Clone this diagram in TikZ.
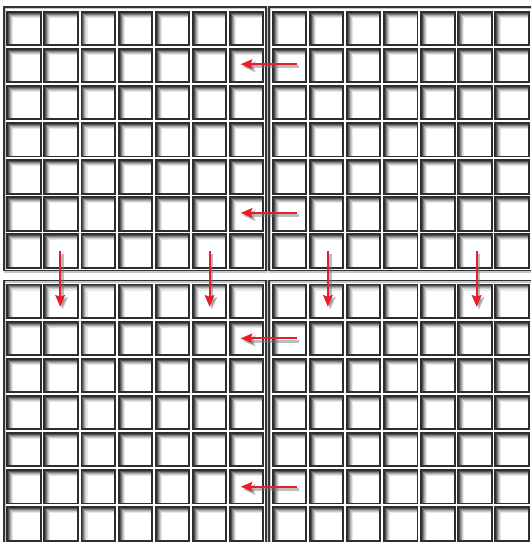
\documentclass[tikz,border=0pt]{standalone}
\usepackage{xcolor}
\usepackage{tikz}
\usetikzlibrary{arrows.meta, positioning}

\definecolor{arrowred}{RGB}{232,30,42}

\begin{document}
\begin{tikzpicture}[
  x=0.03cm, y=-0.03cm,
  frame/.style={draw=black!80, line width=1.4pt},
  frameshade/.style={draw=black!22, line width=1.8pt},
  cell/.style={draw=black!82, line width=1.6pt, fill=white, minimum size=1.005cm,
               inner sep=0pt, outer sep=0pt,
               path picture={
                 \foreach \d/\g in {0.045cm/68, 0.075cm/50, 0.105cm/34, 0.135cm/20, 0.165cm/9}{
                   \draw[black!\g, line width=0.032cm]
                     ([xshift=\d]path picture bounding box.south west)
                     |- ([yshift=-\d]path picture bounding box.north east);
                 }}},
  arrow/.style={-{Stealth[length=0.35cm, width=0.29cm, inset=0.05cm]},
                line width=0.06cm, draw=arrowred, fill=arrowred},
  arrowshade/.style={-{Stealth[length=0.37cm, width=0.32cm, inset=0.05cm]},
                     line width=0.09cm, draw=black!55, fill=black!55, opacity=0.45,
                     transform canvas={shift={(0.07cm,-0.08cm)}}}
]
  \useasboundingbox (0,0) rectangle (530,542);

  % block frames
  \foreach \x/\y/\w in {4/7/262, 269/7/264, 4/280.5/262, 269/280.5/264}{
    \draw[frameshade] (\x+1,\y+1) rectangle ++(\w,263.5);
    \draw[frame] (\x,\y) rectangle ++(\w,263.5);
  }

  % cells, 7 x 7 in every block
  \foreach \blk/\bx/\by in {tl/7.3/11.7, tr/272.7/11.7, bl/7.3/284.5, br/272.7/284.5}{
    \foreach \r in {1,...,7}{
      \foreach \c in {1,...,7}{
        \node[cell] (\blk-\r-\c) at ({\bx+16.75+(\c-1)*37.1}, {\by+16.75+(\r-1)*37.1}) {};
      }
    }
  }

  % arrow ends
  \coordinate (h1s) at ([xshift=0.23cm, yshift=0.04cm]tr-2-1.center);
  \coordinate (h1e) at ([xshift=-0.18cm, yshift=0.04cm]tl-2-7.center);
  \coordinate (h2s) at ([xshift=0.23cm, yshift=0.03cm]tr-6-1.center);
  \coordinate (h2e) at ([xshift=-0.18cm, yshift=0.03cm]tl-6-7.center);
  \coordinate (h3s) at ([xshift=0.23cm]br-2-1.center);
  \coordinate (h3e) at ([xshift=-0.18cm]bl-2-7.center);
  \coordinate (h4s) at ([xshift=0.23cm]br-6-1.center);
  \coordinate (h4e) at ([xshift=-0.18cm]bl-6-7.center);
  \coordinate (v1s) at ([xshift=-0.03cm]tl-7-2.center);
  \coordinate (v1e) at ([xshift=-0.03cm, yshift=-0.165cm]bl-1-2.center);
  \coordinate (v2s) at (tl-7-6.center);
  \coordinate (v2e) at ([yshift=-0.165cm]bl-1-6.center);
  \coordinate (v3s) at ([xshift=0.04cm]tr-7-2.center);
  \coordinate (v3e) at ([xshift=0.04cm, yshift=-0.165cm]br-1-2.center);
  \coordinate (v4s) at ([xshift=0.05cm]tr-7-6.center);
  \coordinate (v4e) at ([xshift=0.05cm, yshift=-0.165cm]br-1-6.center);

  \foreach \a/\b in {h1s/h1e, h2s/h2e, h3s/h3e, h4s/h4e, v1s/v1e, v2s/v2e, v3s/v3e, v4s/v4e}{
    \draw[arrowshade] (\a) -- (\b);
    \draw[arrow] (\a) -- (\b);
  }
\end{tikzpicture}
\end{document}
